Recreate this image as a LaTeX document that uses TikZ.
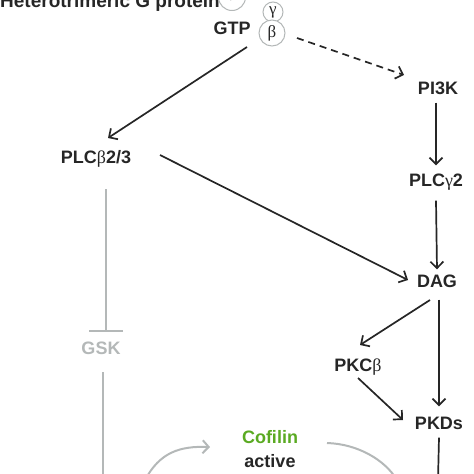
\documentclass[tikz,border=0pt]{standalone}
\usepackage{fontspec}
\setmainfont{Liberation Sans}
\newfontfamily\grk{Liberation Serif}
\usetikzlibrary{arrows.meta}
\definecolor{txt}{HTML}{262626}
\definecolor{lgray}{HTML}{B4B8B8}
\definecolor{cgreen}{HTML}{5AAA22}
\begin{document}
\begin{tikzpicture}[x=1pt,y=-1pt,
 lbl/.style={font=\fontsize{18}{20}\selectfont\bfseries, text=txt, text height=13pt, text depth=0pt, inner xsep=3pt, inner ysep=8pt},
 arr/.style={draw=txt, line width=1.7pt, -{Straight Barb[length=6.5pt,width=13pt,line width=1.7pt]}},
 darr/.style={arr, dash pattern=on 7pt off 5pt},
 garr/.style={draw=lgray, line width=2pt},
 garrow/.style={garr, -{Straight Barb[length=6pt,width=13pt,line width=2pt]}},
 inh/.style={garr, -{Bar[width=34pt,line width=2pt]}},
 sub/.style={circle, draw=lgray, line width=1pt, fill=white, inner sep=0pt, text=txt, font=\grk\fontsize{17}{17}\selectfont}]
\useasboundingbox (0,0) rectangle (474,474);
% nodes
\node[lbl, font=\fontsize{19}{20}\selectfont\bfseries, anchor=base west, inner ysep=0pt, inner xsep=0pt] (het) at (0,7) {Heterotrimeric G protein};
\node[sub, minimum size=27pt] (alpha) at (232,-3) {α};
\node[sub, minimum size=20pt] (gamma) at (273,12) {γ};
\node[sub, minimum size=26pt] (beta) at (272,33) {β};
\node[lbl] (gtp) at (232,28) {GTP};
\node[lbl] (pi3k) at (438,88) {PI3K};
\node[lbl] (plcg) at (436,180) {PLC{\grk\mdseries γ}2};
\node[lbl] (plcb) at (96,157) {PLC{\grk\mdseries β}2/3};
\node[lbl] (dag) at (437,281) {DAG};
\node[lbl] (pkcb) at (358,365) {PKC{\grk\mdseries β}};
\node[lbl] (pkds) at (439,423) {PKDs};
\node[lbl, text=lgray] (gsk) at (101,348) {GSK};
\node[lbl, text=cgreen] (cof) at (270,437) {Cofilin};
\node[lbl] (act) at (270,461) {active};
\coordinate (pkdsend) at (438,480);
\coordinate (gskend) at (103,480);
\coordinate (cycstart) at (145,480);
\coordinate (cycend) at (397,480);
% connectors
\draw[arr] ([shift={(-25,14)}]beta.center) -- ([shift={(12,-19)}]plcb.center);
\draw[darr] ([shift={(25,5)}]beta.center) -- ([shift={(-34,-13)}]pi3k.center);
\draw[arr] (pi3k.south -| plcg) -- (plcg.north);
\draw[arr] ([yshift=-6pt]plcg.south) -- ([yshift=-3pt]dag.north);
\draw[arr] ([shift={(64,-2)}]plcb.center) -- ([shift={(-29,-1)}]dag.center);
\draw[arr] ([shift={(-7,19)}]dag.center) -- ([shift={(2,-20)}]pkcb.center);
\draw[arr] ([yshift=-4pt]dag.south -| pkds) -- ([yshift=2pt]pkds.north);
\draw[arr] ([shift={(0,13)}]pkcb.center) -- ([shift={(-36,-3)}]pkds.center);
\draw[arr, -] (pkds.south) -- (pkdsend);
\draw[inh] ([shift={(10,32)}]plcb.center) -- ([shift={(5,-16)}]gsk.center);
\draw[garr] ([shift={(2,24)}]gsk.center) -- (gskend);
\draw[garrow] (cycstart) .. controls (160,452) and (180,446) .. ([shift={(-60,10)}]cof.center);
\draw[garr] ([shift={(57,6)}]cof.center) .. controls (358,444) and (385,460) .. (cycend);
\end{tikzpicture}
\end{document}
